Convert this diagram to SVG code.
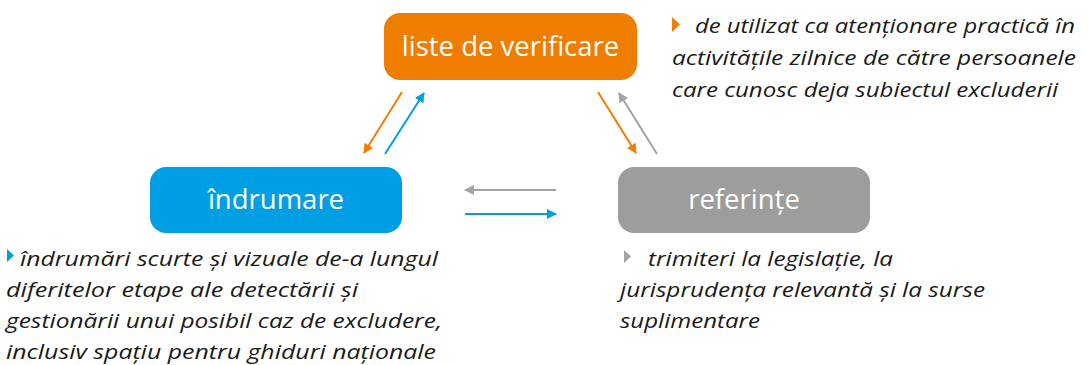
<svg xmlns="http://www.w3.org/2000/svg" width="1089" height="365" viewBox="0 0 1089 365">
<style>
.box-label{font-family:"Open Sans","Noto Sans",sans-serif;font-size:27.5px;fill:#ffffff;text-anchor:middle}
.note{font-family:"Open Sans","Noto Sans",sans-serif;font-style:italic;font-size:20.5px;fill:#1a1a1a}
.c-or{stroke:#EF7D00;stroke-width:2;fill:none}
.c-bl{stroke:#009FE3;stroke-width:2;fill:none}
.c-gr{stroke:#A3A3A3;stroke-width:2;fill:none}
</style>
<defs>
<marker id="ah-or" markerWidth="10" markerHeight="10" refX="9" refY="5" orient="auto" markerUnits="userSpaceOnUse"><path d="M0,0 L10,5 L0,10 Z" fill="#EF7D00"/></marker>
<marker id="ah-bl" markerWidth="10" markerHeight="10" refX="9" refY="5" orient="auto" markerUnits="userSpaceOnUse"><path d="M0,0 L10,5 L0,10 Z" fill="#009FE3"/></marker>
<marker id="ah-gr" markerWidth="10" markerHeight="10" refX="9" refY="5" orient="auto" markerUnits="userSpaceOnUse"><path d="M0,0 L10,5 L0,10 Z" fill="#A3A3A3"/></marker>
</defs>
<rect width="1089" height="365" fill="#ffffff"/>
<g id="connectors">
<line class="c-or" x1="402" y1="92" x2="364" y2="153" marker-end="url(#ah-or)"/>
<line class="c-bl" x1="385" y1="154" x2="424" y2="93" marker-end="url(#ah-bl)"/>
<line class="c-or" x1="598" y1="92" x2="636" y2="153" marker-end="url(#ah-or)"/>
<line class="c-gr" x1="657" y1="154" x2="619" y2="93" marker-end="url(#ah-gr)"/>
<line class="c-gr" x1="556" y1="190" x2="465" y2="190" marker-end="url(#ah-gr)"/>
<line class="c-bl" x1="465" y1="214" x2="556" y2="214" marker-end="url(#ah-bl)"/>
</g>
<g id="node-liste">
<rect x="384" y="13" width="253" height="67" rx="16" fill="#EF7D00"/>
<text class="box-label" x="510.5" y="56">liste de verificare</text>
</g>
<g id="node-indrumare">
<rect x="150" y="167" width="252" height="66" rx="16" fill="#009FE3"/>
<text class="box-label" x="276" y="209">îndrumare</text>
</g>
<g id="node-referinte">
<rect x="618" y="167" width="252" height="66" rx="16" fill="#9D9D9C"/>
<text class="box-label" x="744" y="209">referințe</text>
</g>
<g id="note-liste">
<path d="M672,17 L680,24.5 L672,32 Z" fill="#EF7D00"/>
<text class="note" x="695" y="33" textLength="380" lengthAdjust="spacingAndGlyphs">de utilizat ca atenționare practică în</text>
<text class="note" x="672" y="65" textLength="404" lengthAdjust="spacingAndGlyphs">activitățile zilnice de către persoanele</text>
<text class="note" x="672" y="97" textLength="386" lengthAdjust="spacingAndGlyphs">care cunosc deja subiectul excluderii</text>
</g>
<g id="note-indrumare">
<path d="M7,249 L14,255.5 L7,262 Z" fill="#009FE3"/>
<text class="note" x="20" y="266" textLength="418" lengthAdjust="spacingAndGlyphs">îndrumări scurte și vizuale de-a lungul</text>
<text class="note" x="6" y="297" textLength="352" lengthAdjust="spacingAndGlyphs">diferitelor etape ale detectării și</text>
<text class="note" x="6" y="328" textLength="436" lengthAdjust="spacingAndGlyphs">gestionării unui posibil caz de excludere,</text>
<text class="note" x="6" y="359" textLength="430" lengthAdjust="spacingAndGlyphs">inclusiv spațiu pentru ghiduri naționale</text>
</g>
<g id="note-referinte">
<path d="M624,250 L631,256.5 L624,263 Z" fill="#A3A3A3"/>
<text class="note" x="648" y="266" textLength="245" lengthAdjust="spacingAndGlyphs">trimiteri la legislație, la</text>
<text class="note" x="620" y="297" textLength="365" lengthAdjust="spacingAndGlyphs">jurisprudența relevantă și la surse</text>
<text class="note" x="620" y="328" textLength="140" lengthAdjust="spacingAndGlyphs">suplimentare</text>
</g>
</svg>
